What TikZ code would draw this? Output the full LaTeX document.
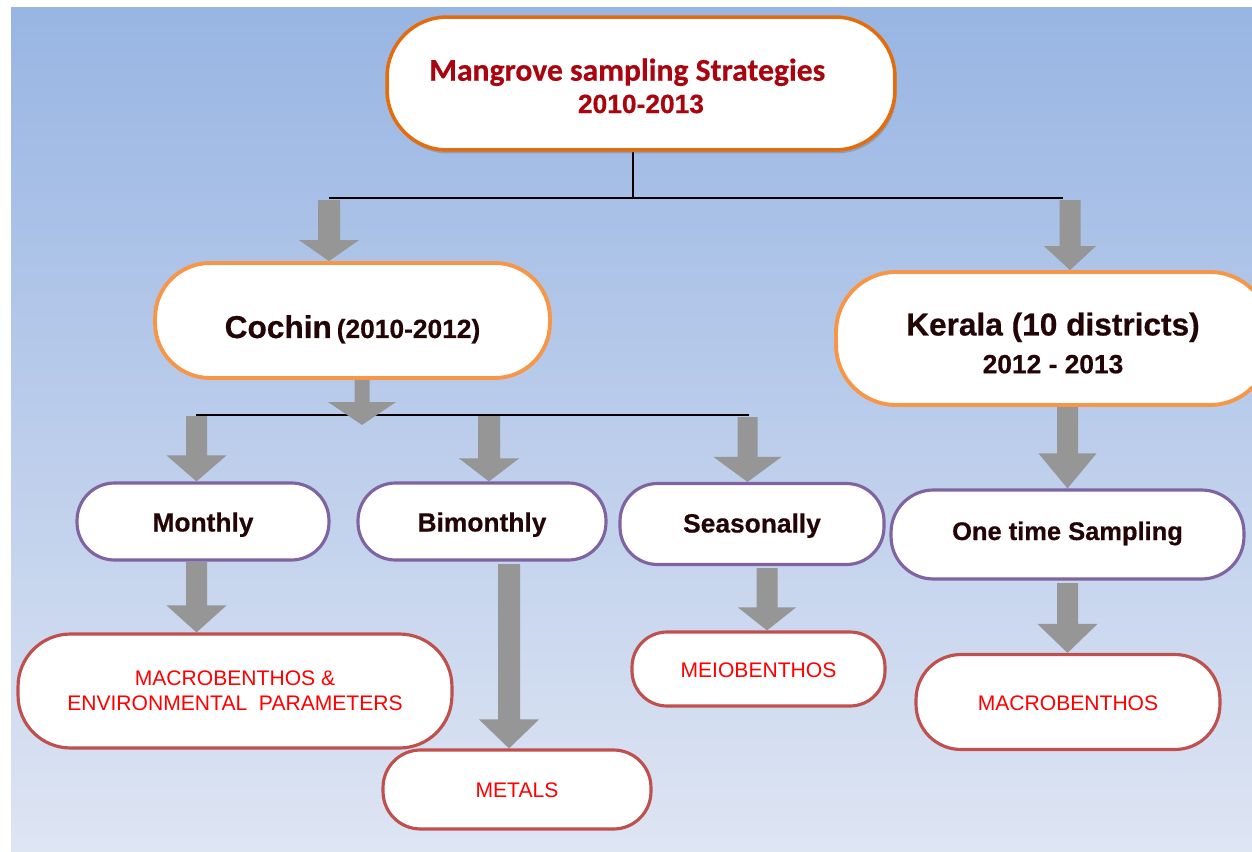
\documentclass[tikz,border=0pt]{standalone}
\usepackage{fontspec}
\setmainfont{Liberation Sans}
\newfontfamily\titlefont{Carlito}[BoldFeatures={FakeBold=0.5}]
\newfontfamily\heavy{Liberation Sans}[BoldFeatures={FakeBold=0.5}]
\usetikzlibrary{calc,shadows}
\definecolor{bgtop}{RGB}{152,181,227}
\definecolor{bgbot}{RGB}{222,229,243}
\definecolor{orgA}{RGB}{228,108,10}
\definecolor{orgB}{RGB}{247,150,70}
\definecolor{purp}{RGB}{128,100,162}
\definecolor{redb}{RGB}{192,80,77}
\definecolor{arrg}{RGB}{150,150,150}
\definecolor{ttl}{RGB}{170,5,15}
\definecolor{dk}{RGB}{35,5,5}
\definecolor{leafred}{RGB}{255,0,0}
\pgfdeclarelayer{bg}\pgfdeclarelayer{arr}\pgfsetlayers{bg,arr,main}
\newcommand\barrow[5]{%
  \fill[arrg] ($(#1)+(-#3,0)$) -- ($(#2)+(-#3,-#5)$) -- ($(#2)+(-#4,-#5)$) -- (#2)
    -- ($(#2)+(#4,-#5)$) -- ($(#2)+(#3,-#5)$) -- ($(#1)+(#3,0)$) -- cycle;}
\newcommand\lowered[2]{\raisebox{-#1}[0pt][0pt]{#2}}
\tikzset{
  basebox/.style={draw, fill=white, inner sep=0pt, align=center},
  ttlbox/.style={basebox, draw=orgA, line width=2pt},
  lvlone/.style={basebox, draw=orgB, line width=2.2pt, text=dk},
  lvltwo/.style={basebox, draw=purp, line width=1.8pt, rounded corners=0.75cm,
    font=\heavy\bfseries\fontsize{15}{18}\selectfont, text=dk},
  leaf/.style={basebox, draw=redb, line width=1.8pt,
    font=\fontsize{12}{14.2}\selectfont, text=leafred},
  conn/.style={black, line width=1pt}
}
\begin{document}
\begin{tikzpicture}[x=0.02cm,y=-0.02cm]
\useasboundingbox (0,0) rectangle (1252,852);
\begin{pgfonlayer}{bg}
\shade[top color=bgtop,bottom color=bgbot] (11,7) rectangle (1252,852);
\end{pgfonlayer}

% nodes
\node[ttlbox, minimum width=10.16cm, minimum height=2.66cm, rounded corners=1.2cm,
  drop shadow={shadow xshift=0.03cm, shadow yshift=-0.07cm, opacity=0.35, fill=black!60},
  font=\heavy\bfseries\fontsize{15}{18.4}\selectfont, text=ttl] (title) at (641,83.5)
  {{\titlefont\fontsize{18}{18.4}\selectfont\rule{0pt}{0.54cm}Mangrove sampling Strategies}\hspace*{0.55cm}\\
   2010-2013};
\node[lvlone, minimum width=7.9cm, minimum height=2.3cm, rounded corners=1.1cm,
  font=\heavy\bfseries] (cochin) at (352.5,320.5)
  {\lowered{0.35cm}{{\fontsize{18}{20}\selectfont Cochin} {\fontsize{15}{18}\selectfont (2010-2012)}}};
\node[lvlone, minimum width=8.68cm, minimum height=2.66cm, rounded corners=1.2cm,
  font=\heavy\bfseries\fontsize{18}{21.5}\selectfont] (kerala) at (1053,338.5)
  {\rule{0pt}{0.64cm}Kerala (10 districts)\\{\fontsize{15}{18}\selectfont 2012 - 2013}};
\node[lvltwo, minimum width=5.04cm, minimum height=1.54cm] (monthly) at (203,521.5) {\lowered{0.2cm}{Monthly}};
\node[lvltwo, minimum width=4.96cm, minimum height=1.54cm] (bimonthly) at (482,521.5) {\lowered{0.2cm}{Bimonthly}};
\node[lvltwo, minimum width=5.28cm, minimum height=1.62cm] (seasonal) at (752,524) {\lowered{0.17cm}{Seasonally}};
\node[lvltwo, minimum width=7.06cm, minimum height=1.78cm, rounded corners=0.85cm,
  font=\heavy\bfseries\fontsize{14.5}{18}\selectfont] (onetime) at (1067.5,534.5) {\lowered{0.11cm}{One time Sampling}};
\node[leaf, minimum width=8.68cm, minimum height=2.28cm, rounded corners=1.05cm] (macroenv) at (235,691)
  {MACROBENTHOS \&\\ENVIRONMENTAL\ \ PARAMETERS};
\node[leaf, minimum width=5.36cm, minimum height=1.58cm, rounded corners=0.75cm] (metals) at (517,789.5) {\lowered{0.15cm}{METALS}};
\node[leaf, minimum width=5.06cm, minimum height=1.48cm, rounded corners=0.7cm] (meio) at (758.5,669) {\lowered{0.16cm}{MEIOBENTHOS}};
\node[leaf, minimum width=6.08cm, minimum height=1.9cm, rounded corners=0.9cm] (macro) at (1068,702) {\lowered{0.16cm}{MACROBENTHOS}};

% connector lines
\coordinate (hubA) at (633,198);
\coordinate (hAL) at (329,198);
\coordinate (hAR) at (1063,198);
\coordinate (hBL) at (196,415);
\coordinate (hBR) at (749,415);
\begin{pgfonlayer}{arr}
\draw[conn] (title.south -| hubA) -- (hubA);
\draw[conn] (hAL) -- (hAR);
\draw[conn, line width=0.8pt] (hBL) -- (hBR);

% block arrows
\coordinate (a1s) at (329,200);   \coordinate (a1e) at (a1s |- cochin.north);
\barrow{a1s}{a1e}{11}{30}{21}
\coordinate (a2s) at (1070,200);  \coordinate (a2e) at (a2s |- kerala.north);
\barrow{a2s}{a2e}{10.5}{26}{24}
\coordinate (a3s) at (362,380);   \coordinate (a3e) at (362,425);
\barrow{a3s}{a3e}{7.5}{34}{23}
\coordinate (a4s) at (196.5,416); \coordinate (a4e) at (a4s |- monthly.north);
\barrow{a4s}{a4e}{10.5}{30}{26}
\coordinate (a5s) at (489,416);   \coordinate (a5e) at (a5s |- bimonthly.north);
\barrow{a5s}{a5e}{11}{30}{23}
\coordinate (a6s) at (747.5,417); \coordinate (a6e) at (a6s |- seasonal.north);
\barrow{a6s}{a6e}{10}{34}{25}
\coordinate (a7s) at (1067.5,407); \coordinate (a7e) at (a7s |- onetime.north);
\barrow{a7s}{a7e}{10.5}{29}{35}
\coordinate (a8s) at (1067.5,583); \coordinate (a8e) at (a8s |- macro.north);
\barrow{a8s}{a8e}{10.5}{30}{29}
\coordinate (a9s) at (196.5,562); \coordinate (a9e) at (a9s |- macroenv.north);
\barrow{a9s}{a9e}{10.5}{30}{27}
\coordinate (a10s) at (509,564);  \coordinate (a10e) at (a10s |- metals.north);
\barrow{a10s}{a10e}{11}{30}{29}
\coordinate (a11s) at (767,568);  \coordinate (a11e) at (a11s |- meio.north);
\barrow{a11s}{a11e}{10.5}{29}{23}
\end{pgfonlayer}
\end{tikzpicture}
\end{document}
